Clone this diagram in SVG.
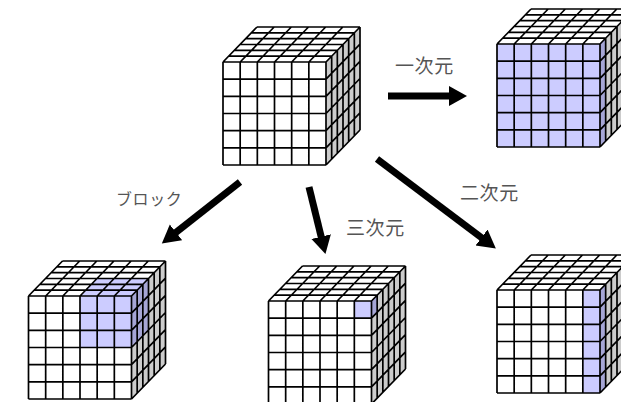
<svg xmlns="http://www.w3.org/2000/svg" width="621" height="402" viewBox="0 0 621 402">
<style>
.lab{font-family:"Noto Sans CJK JP","Noto Sans",sans-serif;font-size:19px;letter-spacing:.6px;fill:#555}
.arr{fill:none;stroke:#000;stroke-width:7;marker-end:url(#head)}
.grid{fill:none;stroke:#000;stroke-width:1.7}
.wh{fill:#fff}.gr{fill:#ccc}
.b{fill:#ccf}.bs{fill:#a6a6d6}
</style>
<defs>
<marker id="head" markerUnits="userSpaceOnUse" markerWidth="20" markerHeight="22" refX="1" refY="10.500" orient="auto" viewBox="0 0 20 21"><path d="M0 .5L18 10.500L0 20.500Z" fill="#000"/></marker>
<g id="faces">
<path class="wh" d="M0 0L34 -35H137L103 0Z"/>
<path class="gr" d="M103 0L137 -35V68L103 103Z"/>
<rect class="wh" width="103" height="103"/>
</g>
<path id="lines" class="grid" d="M0 0H103M0 17.170H103M0 34.330H103M0 51.500H103M0 68.670H103M0 85.830H103M0 103H103M0 0V103M17.170 0V103M34.330 0V103M51.500 0V103M68.670 0V103M85.830 0V103M103 0V103M0 0L34 -35M17.170 0L51.170 -35M34.330 0L68.330 -35M51.500 0L85.500 -35M68.670 0L102.670 -35M85.830 0L119.830 -35M103 0L137 -35M5.670 -5.830H108.670M11.330 -11.670H114.330M17 -17.500H120M22.670 -23.330H125.670M28.330 -29.170H131.330M34 -35H137M108.670 -5.830V97.170M114.330 -11.670V91.330M120 -17.500V85.500M125.670 -23.330V79.670M131.330 -29.170V73.830M137 -35V68M103 17.170L137 -17.830M103 34.330L137 -.670M103 51.500L137 16.500M103 68.670L137 33.670M103 85.830L137 50.830M103 103L137 68"/>
</defs>
<g id="source" transform="translate(223 62)">
<use href="#faces"/><use href="#lines"/>
</g>
<g id="one-d" transform="translate(497 44)">
<use href="#faces"/>
<rect class="b" width="103" height="103"/>
<path class="bs" d="M103 0L108.670 -5.830V97.170L103 103Z"/>
<use href="#lines"/>
</g>
<g id="block" transform="translate(28.500 296)">
<use href="#faces"/>
<path class="b" d="M51.500 0L68.500 -17.500H120L103 0Z"/>
<rect class="b" x="51.500" width="51.500" height="51.500"/>
<path class="bs" d="M103 0L120 -17.500V34L103 51.500Z"/>
<use href="#lines"/>
</g>
<g id="three-d" transform="translate(268.500 301)">
<use href="#faces"/>
<rect class="b" x="85.830" width="17.170" height="17.170"/>
<path class="bs" d="M103 0L108.670 -5.830V11.330L103 17.170Z"/>
<use href="#lines"/>
</g>
<g id="two-d" transform="translate(497 290)">
<use href="#faces"/>
<rect class="b" x="85.830" width="17.170" height="103"/>
<path class="bs" d="M103 0L108.670 -5.830V97.170L103 103Z"/>
<use href="#lines"/>
</g>
<g id="connectors">
<line class="arr" x1="388" y1="96" x2="450" y2="96"/>
<line class="arr" x1="240" y1="182" x2="175.200" y2="232.900"/>
<line class="arr" x1="309" y1="187" x2="321.400" y2="237.600"/>
<line class="arr" x1="377" y1="159" x2="482.300" y2="238.200"/>
</g>
<g id="labels">
<text class="lab" x="395" y="73">一次元</text>
<text class="lab" x="346" y="235">三次元</text>
<text class="lab" x="460" y="200">二次元</text>
<text class="lab" x="116" y="205" style="font-size:16px">ブロック</text>
</g>
</svg>
